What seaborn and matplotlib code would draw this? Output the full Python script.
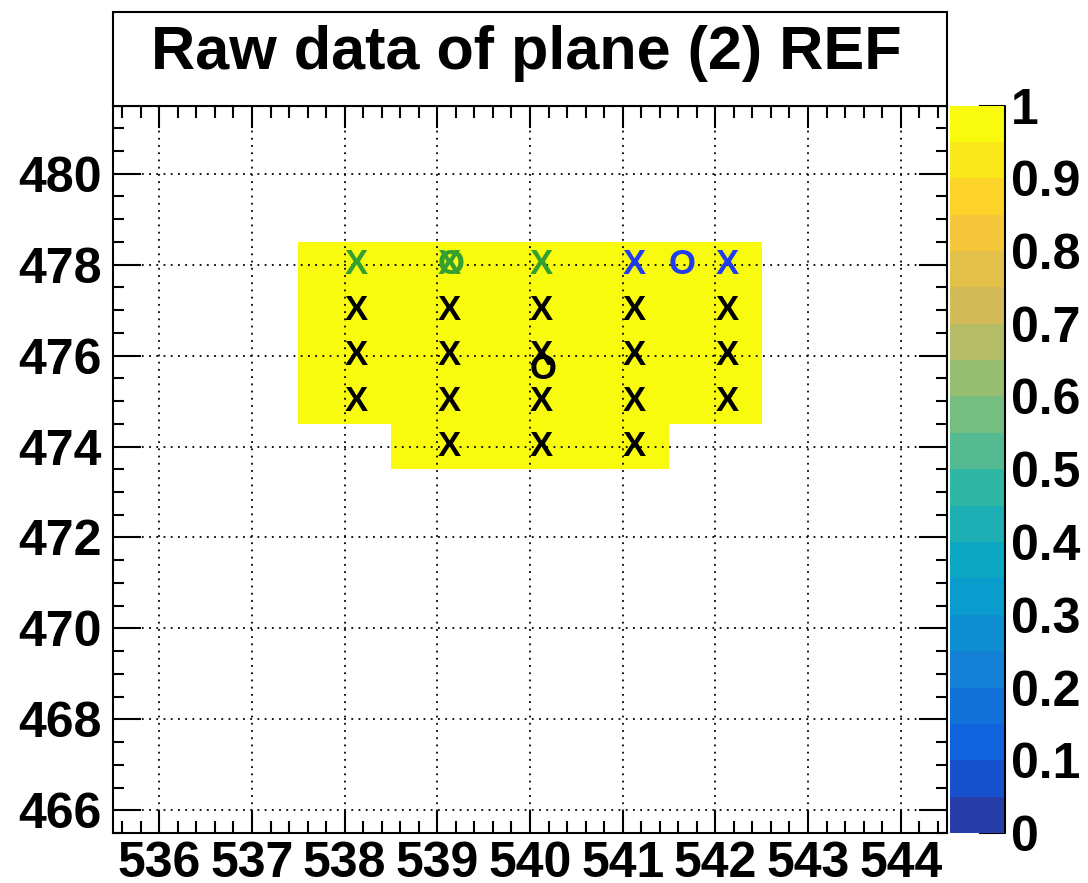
"Raw hit map of one detector plane, drawn in the style of a ROOT COLZ histogram."
import matplotlib
matplotlib.use('Agg')
import matplotlib.pyplot as plt
from matplotlib.colors import LinearSegmentedColormap, ListedColormap, Normalize
from matplotlib.cm import ScalarMappable
from matplotlib.patches import Rectangle
from matplotlib.ticker import MultipleLocator
import numpy as np
import pandas as pd
import seaborn as sns

title = 'Raw data of plane (2) REF'

# fired cells (all with value 1)
hit_col = [538, 539, 540, 541, 542,
           538, 539, 540, 541, 542,
           538, 539, 540, 541, 542,
           538, 539, 540, 541, 542,
           539, 540, 541]
hit_row = [478, 478, 478, 478, 478,
           477, 477, 477, 477, 477,
           476, 476, 476, 476, 476,
           475, 475, 475, 475, 475,
           474, 474, 474]
hit_val = [1] * len(hit_col)

# text marks drawn over the map
mark_x = [538, 539, 540, 539, 541, 542, 541.5,
          538, 538, 538,
          539, 539, 539, 539,
          540, 540, 540, 540,
          541, 541, 541, 541,
          542, 542, 542,
          540]
mark_y = [478, 478, 478, 478, 478, 478, 478,
          477, 476, 475,
          477, 476, 475, 474,
          477, 476, 475, 474,
          477, 476, 475, 474,
          477, 476, 475,
          475.7]
mark_sym = ['X', 'X', 'X', 'O', 'X', 'X', 'O'] + ['X'] * 18 + ['O']
mark_col = ['green'] * 4 + ['blue'] * 3 + ['black'] * 19

colors = {'green': '#35a02f', 'blue': '#1f3cf0', 'black': 'black'}

# ROOT kBird palette, 20 contour levels
bird_stops = [0.0, 0.125, 0.25, 0.375, 0.5, 0.625, 0.75, 0.875, 1.0]
bird_r = [0.2082, 0.0592, 0.0780, 0.0232, 0.1802, 0.5301, 0.8186, 0.9956, 0.9764]
bird_g = [0.1664, 0.3599, 0.5041, 0.6419, 0.7178, 0.7492, 0.7328, 0.7862, 0.9832]
bird_b = [0.5293, 0.8684, 0.8385, 0.7914, 0.6425, 0.4662, 0.3499, 0.1968, 0.0539]
bird = LinearSegmentedColormap.from_list(
    'bird', list(zip(bird_stops, zip(bird_r, bird_g, bird_b))))
levels = 20
idx = [int((i + 0.99) * 255 / levels) / 254 for i in range(levels)]
cmap = ListedColormap([bird(min(v, 1.0)) for v in idx])

sns.set_theme(style='ticks')
plt.rcParams['font.family'] = ['Liberation Sans', 'DejaVu Sans']
plt.rcParams['font.weight'] = 'bold'
plt.rcParams['text.color'] = 'black'
plt.rcParams['xtick.color'] = 'black'
plt.rcParams['ytick.color'] = 'black'
plt.rcParams['xtick.labelcolor'] = 'black'
plt.rcParams['ytick.labelcolor'] = 'black'

fig = plt.figure(figsize=(10.88, 8.83), dpi=100)
W, H = 1088, 883
ax = fig.add_axes([113 / W, 1 - 833 / H, (947 - 113) / W, (833 - 105.5) / H])
cax = fig.add_axes([950 / W, 1 - 833 / H, 55 / W, (833 - 105.5) / H])

df = pd.DataFrame({'col': hit_col, 'row': hit_row, 'val': hit_val})
sns.histplot(data=df, x='col', y='row', weights='val', discrete=True,
             cmap=cmap, vmin=0, vmax=1, ax=ax, zorder=1)

ax.set_xlim(535.5, 544.5)
ax.set_ylim(465.5, 481.5)
ax.set_xlabel('')
ax.set_ylabel('')
ax.xaxis.set_major_locator(MultipleLocator(1))
ax.xaxis.set_minor_locator(MultipleLocator(0.2))
ax.yaxis.set_major_locator(MultipleLocator(2))
ax.yaxis.set_minor_locator(MultipleLocator(0.5))
ax.tick_params(which='both', direction='in', top=True, right=True,
               width=1.5, color='black', labelcolor='black', labelsize=36)
ax.tick_params(axis='x', which='major', length=16, pad=6)
ax.tick_params(axis='x', which='minor', length=8.5)
ax.tick_params(axis='y', which='major', length=20, pad=8)
ax.tick_params(axis='y', which='minor', length=8)
for lab in ax.get_xticklabels() + ax.get_yticklabels():
    lab.set_fontweight('bold')
for sp in ax.spines.values():
    sp.set_linewidth(1.5)
    sp.set_color('black')
ax.set_axisbelow(False)
ax.grid(True, which='major', color='black', linestyle=(0, (1, 3)), linewidth=1.3)

for x, y, s, c in zip(mark_x, mark_y, mark_sym, mark_col):
    ax.text(x, y, s, ha='left', va='center', fontsize=25, fontweight='bold',
            color=colors[c], zorder=4)

cbar = fig.colorbar(ScalarMappable(norm=Normalize(0, 1), cmap=cmap), cax=cax)
cbar.outline.set_visible(False)
cbar.set_ticks(np.arange(0, 1.01, 0.1))
cbar.set_ticklabels(['0', '0.1', '0.2', '0.3', '0.4', '0.5', '0.6', '0.7', '0.8', '0.9', '1'])
cax.tick_params(direction='in', length=19, width=1.5, color='black',
                labelcolor='black', pad=4, labelsize=36)
cax.minorticks_off()
for lab in cax.get_yticklabels():
    lab.set_fontweight('bold')
cax.plot([1, 1], [0, 1], transform=cax.transAxes, color='black', lw=1.5, clip_on=False)

fig.patches.append(Rectangle((112.5 / W, 1 - 105.5 / H), (947 - 112.5) / W, (105.5 - 12) / H,
                             transform=fig.transFigure, facecolor='white',
                             edgecolor='black', linewidth=1.5, zorder=0))
fig.text(526.5 / W, 1 - 54 / H, title, ha='center', va='center',
         fontsize=44, fontweight='bold', color='black')

fig.savefig('out.png', dpi=100, facecolor='white')
